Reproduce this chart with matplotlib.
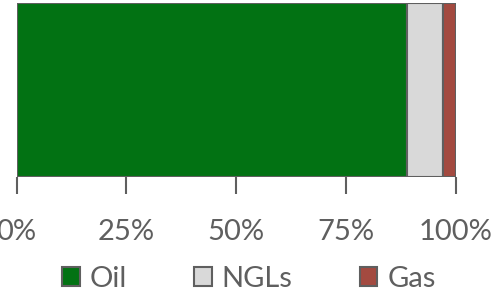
import matplotlib.pyplot as plt
from matplotlib.ticker import PercentFormatter

# Production mix (share of total, %)
categories = ["Oil", "NGLs", "Gas"]
shares = [88.8, 8.2, 3.0]
colors = ["#027213", "#d9d9d9", "#a34a40"]
ticks = [0, 25, 50, 75, 100]

plt.rcParams['font.family'] = ['Lato', 'DejaVu Sans']
grey = "#5f5f5f"

fig = plt.figure(figsize=(4.97, 2.89), dpi=100)
ax = fig.add_axes([16.5 / 497, (289 - 177) / 289, (456 - 16.5) / 497, 174 / 289])

left = 0
for cat, val, col in zip(categories, shares, colors):
    ax.barh(0, val, left=left, height=1.0, color=col, edgecolor=grey,
            linewidth=1.5, label=cat)
    left += val

ax.set_xlim(0, 100)
ax.set_ylim(-0.5, 0.5)
ax.set_yticks([])
ax.set_xticks(ticks)
ax.xaxis.set_major_formatter(PercentFormatter(decimals=0))
ax.tick_params(axis='x', length=12, width=1.5, color=grey, labelcolor=grey,
               labelsize=21, pad=18)
for s in ax.spines.values():
    s.set_visible(False)

leg = fig.legend(loc='center left', bbox_to_anchor=(0.125, (289 - 279) / 289),
                 ncol=3, frameon=False, fontsize=21, labelcolor=grey,
                 handlelength=0.6, handleheight=0.6, handletextpad=0.35,
                 columnspacing=2.3, borderpad=0, borderaxespad=0)
for h in leg.legend_handles:
    h.set_linewidth(1.5)

fig.savefig("out.png", dpi=100)
